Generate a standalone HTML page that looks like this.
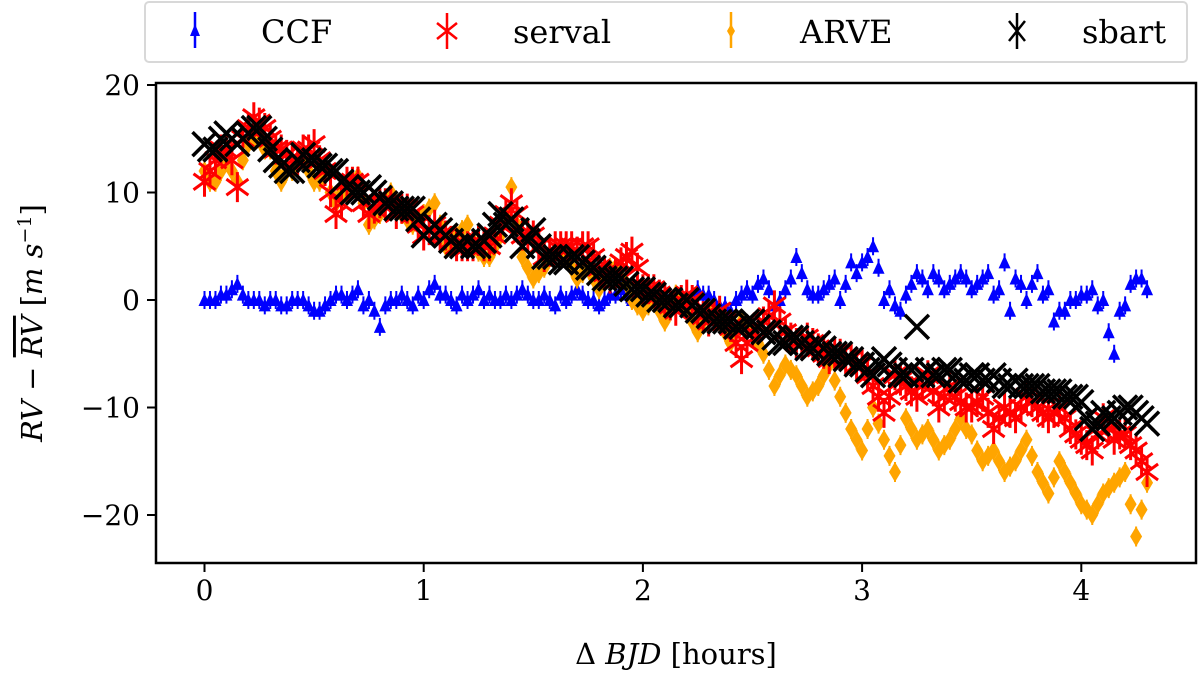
<!DOCTYPE html>
<html><head><meta charset="utf-8"><style>
html,body{margin:0;padding:0;background:#fff;}
svg{display:block;font-family:"DejaVu Serif","Liberation Serif",serif;}
</style></head><body>
<svg id="chart" width="1200" height="673" viewBox="0 0 1200 673">
<rect x="145" y="2" width="1042" height="60" rx="4" fill="#fff" stroke="#d8d8d8" stroke-width="2"/>
<g id="legend"></g>
<g id="marks"></g>
<rect x="156" y="83" width="1040" height="480" fill="none" stroke="#000" stroke-width="2.5"/>
<g id="axes"></g>
<text x="676" y="664" font-size="29" text-anchor="middle">Δ <tspan font-style="italic">BJD</tspan> [hours]</text>
<text transform="translate(42,323) rotate(-90)" font-size="29" text-anchor="middle"><tspan font-style="italic">RV</tspan> − <tspan font-style="italic" text-decoration="overline">RV</tspan> [<tspan font-style="italic">m s</tspan><tspan font-size="19" dy="-11">−1</tspan><tspan dy="11">]</tspan></text>
</svg>
<script>
const times=[0,0.05,0.1,0.15,0.2,0.25,0.3,0.35,0.4,0.45,0.5,0.55,0.6,0.65,0.7,0.75,0.8,0.85,0.9,0.95,1.0,1.05,1.1,1.15,1.2,1.25,1.3,1.35,1.4,1.45,1.5,1.55,1.6,1.65,1.7,1.75,1.8,1.85,1.9,1.95,2.0,2.05,2.1,2.15,2.2,2.25,2.3,2.35,2.4,2.45,2.5,2.55,2.6,2.65,2.7,2.75,2.8,2.85,2.9,2.95,3.0,3.05,3.1,3.15,3.2,3.25,3.3,3.35,3.4,3.45,3.5,3.55,3.6,3.65,3.7,3.75,3.8,3.85,3.9,3.95,4.0,4.05,4.1,4.15,4.2,4.25,4.3];
const times2=[0.025,0.075,0.125,0.175,0.225,0.275,0.325,0.375,0.425,0.475,0.525,0.575,0.625,0.675,0.725,0.775,0.825,0.875,0.925,0.975,1.025,1.075,1.125,1.175,1.225,1.275,1.325,1.375,1.425,1.475,1.525,1.575,1.625,1.675,1.725,1.775,1.825,1.875,1.925,1.975,2.025,2.075,2.125,2.175,2.225,2.275,2.325,2.375,2.425,2.475,2.525,2.575,2.625,2.675,2.725,2.775,2.825,2.875,2.925,2.975,3.025,3.075,3.125,3.175,3.225,3.275,3.325,3.375,3.425,3.475,3.525,3.575,3.625,3.675,3.725,3.775,3.825,3.875,3.925,3.975,4.025,4.075,4.125,4.175,4.225,4.275];
const ccf=[0,0,0.5,1.5,0,0,0,-0.5,0,0,-1,-0.5,0.5,0,1,0,-2.5,0,0.5,-0.5,0,1.5,0.5,-0.5,0,1,0.5,0,0,1,0,0.5,-0.5,0,1,0,-0.5,0.5,1,0,0,0.5,0.5,-0.5,0.5,1,0.5,-0.5,-1,0.5,0.5,2,-0.5,1,4,1,0.5,1.5,0,3.5,3.5,5,0,-0.5,0.5,2.5,1,2,1.5,2.5,1,2,0.5,3.5,2,0,2.5,1,-1,0,0.5,1,0,-5,-0.5,2,1];
const ccf2=[0,0.5,1,0.5,0,-0.5,0,-0.5,0,-0.5,-1,0,0.5,0.5,-0.5,-1,-0.5,0,0,0.5,1,0.5,0,0.5,0.5,0,0,0.5,0.5,0.5,0,0,0.5,0.5,0.5,0,0,0.5,0.5,0,0,0,0,0,0.5,0.5,0,-0.5,0,1,1.5,1,0,2,2.5,0.5,1,2,1.5,2.5,4,3,1,-1,1.5,2,2.5,1,2,2,1.5,2.5,1,-1,1.5,1.5,0.5,-2,-1,0,0.5,-0.5,-3,-1,1.5,2];
const serval=[11,13,14,10.5,16,16.5,15,14,13,14,14.5,12,8,11,11,8,9,9,8.5,8,6,7,6,5,5,5.5,5,7,9,6,6,4,5,5,4.5,5,3,2,3.5,4.5,1,1,0,-1,0.5,-1,-2,-1,-2.5,-5.5,-3,-2,-0.5,-3,-4,-3.5,-4.5,-5.5,-5,-5.5,-6,-8,-10.5,-7,-8,-9,-7,-10,-8,-9.5,-10,-9,-12,-10,-11,-9,-10,-11,-10,-12,-13,-14,-11,-13,-12.5,-14,-16];
const serval2=[12,14,13,15,17,16,14,13.5,13,14,13,10,9,11,9,8.5,9,8,8.5,7,6.5,6,5.5,5,5,5,6,8,8,6,5,4.5,5,5,5,4,2.5,2.5,4,3,1,0.5,-0.5,0,0,-1.5,-1.5,-2,-4,-4,-2.5,-1.5,-2,-3.5,-4,-4,-5,-5,-5.5,-6,-7,-9,-9,-7.5,-8.5,-8,-8.5,-9,-9,-10,-9.5,-10.5,-11,-10.5,-10,-9.5,-10.5,-10.5,-11,-12.5,-13.5,-12.5,-12,-12.5,-13.5,-15];
const arve=[12,11,13,11,14.5,15,14,11,12,13,11,12,9,10,11.5,7,8,10,8,7,8,9,5,6,7,4.5,4,6,10.5,4,2,3,4.5,4,2,3,1,3,3,0,-1,0,-2,0.5,-1,-3,-1,-2,-4,-2,-3,-5,-8,-6,-7,-9,-8,-6,-9,-12,-14,-10,-13,-16,-11,-13,-12,-14,-13,-11,-12.5,-15,-14,-16,-15,-13,-16,-18,-15,-17,-19,-20,-18,-17,-16,-22,-17];
const arve2=[11,12,12,13,15,14,12,12,13,12,11,10,10,11,9,7.5,9,9,7.5,7.5,8.5,7,5.5,6.5,5.5,4,5,8,7,3,2.5,4,4,3,2.5,2,2,3,1.5,-0.5,-0.5,-1,-1,0,-2,-2,-1.5,-3,-3,-2.5,-4,-6.5,-7,-6.5,-8,-8.5,-7,-7.5,-10.5,-13,-12,-11.5,-14.5,-13.5,-12,-12.5,-13,-13.5,-12,-12,-14,-14.5,-15,-15.5,-14,-14.5,-17,-16.5,-16,-18,-19.5,-19,-17.5,-16.5,-19,-19.5];
const sbart=[14.5,14,15.5,14.5,15.5,16,14,12.5,12,13.5,13,12.5,12,10.5,10,10.5,9.5,9,8.5,8.5,6,7,6,5,5.5,5,6,8,7.5,5,6.5,4,4,3.5,4,3,2.5,2,2,1,1,0.5,0,-0.5,0,-1,-1.5,-2,-2,-2.5,-2,-3,-3.5,-4,-3.5,-4.5,-4,-5,-5,-5.5,-6,-7,-5.5,-6.5,-7,-2.5,-6.5,-7,-6.5,-7.5,-7,-7.5,-7,-8,-7.5,-8,-8,-8.5,-8.5,-9,-9.5,-12,-10.5,-11,-10,-10.5,-11.5];
const sbart2=[14,15,15,15,16,15,13,12,13,13,12.5,12,11,10,10,10,9,8.5,8.5,7.5,6.5,6.5,5.5,5,5,5.5,7,7,6.5,5.5,5,4,3.5,4,3.5,3,2,2,1.5,1,0.5,0,0,-0.5,-0.5,-1,-2,-2,-2.5,-2,-2.5,-3,-4,-3.5,-4,-4.5,-4.5,-5,-5.5,-6,-6.5,-6,-6,-7,-6.5,-7,-7,-6.5,-7,-7.5,-7,-7.5,-7.5,-8,-8,-8,-8.5,-8.5,-9,-9,-11,-11.5,-11,-10.5,-10,-11];
const xTicks=[0,1,2,3,4];
const yTicks=[20,10,0,-10,-20];
const yTickLabels=["20","10","0","−10","−20"];
const legendLabels=["CCF","serval","ARVE","sbart"];

const NS="http://www.w3.org/2000/svg";
const xs=t=>204.5+t*219.2;
const ys=v=>300-v*10.75;
function mk(tag,attrs,parent){const e=document.createElementNS(NS,tag);for(const k in attrs)e.setAttribute(k,attrs[k]);parent.appendChild(e);return e;}
const marks=document.getElementById('marks');
const axes=document.getElementById('axes');
const legend=document.getElementById('legend');

function drawCCF(x,y,g){
  mk('line',{x1:x,y1:y-9,x2:x,y2:y+9,stroke:'#0000ff','stroke-width':2},g);
  mk('polygon',{points:`${x},${y-7} ${x-6},${y+6} ${x+6},${y+6}`,fill:'#0000ff'},g);
}
function drawServal(x,y,g){
  const d=`M${x-11},${y-8}L${x+11},${y+8}M${x-11},${y+8}L${x+11},${y-8}M${x},${y-15}L${x},${y+15}`;
  mk('path',{d:d,stroke:'#ff0000','stroke-width':3,fill:'none'},g);
}
function drawArve(x,y,g){
  mk('line',{x1:x,y1:y-10,x2:x,y2:y+10,stroke:'#ffa500','stroke-width':2},g);
  mk('polygon',{points:`${x},${y-10} ${x+6},${y} ${x},${y+10} ${x-6},${y}`,fill:'#ffa500'},g);
}
function drawSbart(x,y,g){
  const d=`M${x-12},${y-12}L${x+12},${y+12}M${x-12},${y+12}L${x+12},${y-12}`;
  mk('path',{d:d,stroke:'#000','stroke-width':3.5,fill:'none'},g);
}

const series=[[ccf,times,drawCCF,'ccf-point'],[ccf2,times2,drawCCF,'ccf-point'],[arve,times,drawArve,'arve-point'],[arve2,times2,drawArve,'arve-point'],[serval,times,drawServal,'serval-point'],[serval2,times2,drawServal,'serval-point'],[sbart,times,drawSbart,'sbart-point'],[sbart2,times2,drawSbart,'sbart-point']];
series.forEach(([vals,ts,fn,name])=>{
  vals.forEach((v,i)=>{
    const g=mk('g',{},marks);
    
    
    fn(xs(ts[i]),ys(v),g);
  });
});

xTicks.forEach(t=>{
  const x=xs(t);
  const l=mk('line',{x1:x,y1:563,x2:x,y2:572,stroke:'#000','stroke-width':2},axes);
  
  
  const tx=mk('text',{x:x,y:600,'font-size':28,'text-anchor':'middle'},axes);
  tx.textContent=String(t);
  
  
});
yTicks.forEach((v,i)=>{
  const y=ys(v);
  const l=mk('line',{x1:147,y1:y,x2:156,y2:y,stroke:'#000','stroke-width':2},axes);
  
  
  const tx=mk('text',{x:140,y:y+10,'font-size':28,'text-anchor':'end'},axes);
  tx.textContent=yTickLabels[i];
  
  
});

const legX=[195,447,731,1017];
const legTX=[261,513,800,1082];
legendLabels.forEach((lab,i)=>{
  const g=mk('g',{},legend);
  
  
  const x=legX[i],y=31;
  if(i===0){mk('line',{x1:x,y1:12,x2:x,y2:48,stroke:'#0000ff','stroke-width':2.5},g);mk('polygon',{points:`${x},${y-7} ${x-5},${y+5} ${x+5},${y+5}`,fill:'#0000ff'},g);}
  else if(i===1){mk('path',{d:`M${x-10},${y-8}L${x+10},${y+8}M${x-10},${y+8}L${x+10},${y-8}M${x},${y-18}L${x},${y+18}`,stroke:'#ff0000','stroke-width':2.5,fill:'none'},g);}
  else if(i===2){mk('line',{x1:x,y1:12,x2:x,y2:48,stroke:'#ffa500','stroke-width':2.5},g);mk('polygon',{points:`${x},${y-7} ${x+4},${y} ${x},${y+7} ${x-4},${y}`,fill:'#ffa500'},g);}
  else {mk('path',{d:`M${x-8},${y-10}L${x+8},${y+10}M${x-8},${y+10}L${x+8},${y-10}M${x},${y-18}L${x},${y+18}`,stroke:'#000','stroke-width':2.5,fill:'none'},g);}
  const t=mk('text',{x:legTX[i],y:43,'font-size':32},g);
  t.textContent=lab;
});
</script>
</body></html>
